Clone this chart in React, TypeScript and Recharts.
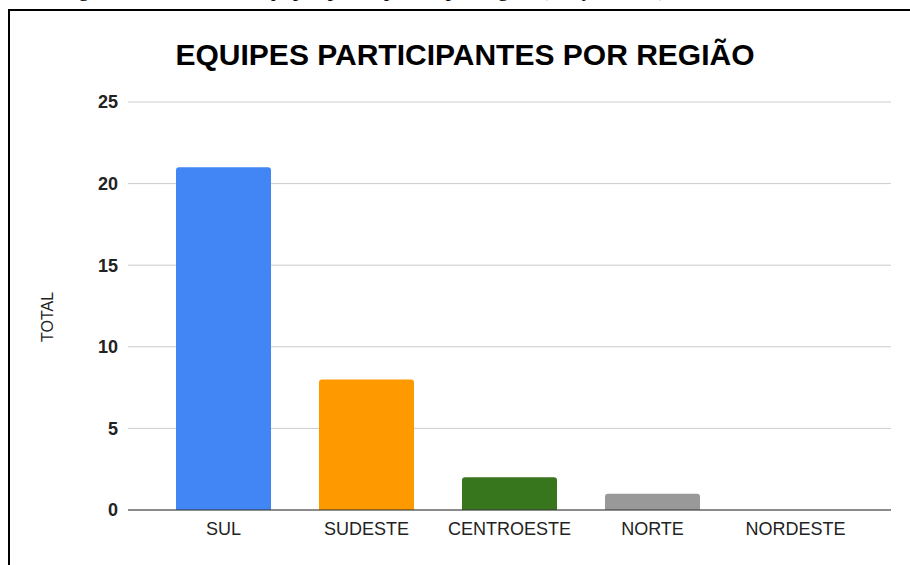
import { BarChart, Bar, XAxis, YAxis, CartesianGrid, Cell } from 'recharts';

// Equipes participantes por região
const regioes = ['SUL', 'SUDESTE', 'CENTROESTE', 'NORTE', 'NORDESTE'];
const totais = [21, 8, 2, 1, 0];
const cores = ['#4285f4', '#ff9900', '#38761d', '#999999', '#999999'];
const yTicks = [0, 5, 10, 15, 20, 25];

const chartData = regioes.map((regiao, i) => ({ regiao, total: totais[i] }));

export default function App() {
  return (
    <div
      style={{
        position: 'absolute',
        left: 0,
        top: 0,
        width: 910,
        height: 565,
        overflow: 'hidden',
        background: '#fff',
        fontFamily: '"Liberation Sans", Arial, sans-serif',
      }}
    >
      {/* caption from the page above, cut off at the top */}
      <div
        style={{
          position: 'absolute',
          left: 0,
          top: 0,
          width: 910,
          height: 8,
          overflow: 'hidden',
        }}
      >
        <div
          style={{
            position: 'absolute',
            left: 60,
            top: -24,
            whiteSpace: 'nowrap',
            fontFamily: '"Liberation Serif", "Times New Roman", serif',
            fontSize: 22,
            lineHeight: '26px',
            color: '#000',
          }}
        >
          Figura 2 – Gráfico de equipes participantes por região (Edição 2023)
        </div>
      </div>

      {/* frame */}
      <div
        style={{
          position: 'absolute',
          left: 8,
          top: 9,
          width: 1000,
          height: 1000,
          border: '2px solid #000',
        }}
      />

      <div
        style={{
          position: 'absolute',
          left: 0,
          top: 38,
          width: 930,
          textAlign: 'center',
          fontWeight: 'bold',
          fontSize: 30,
          color: '#000',
          lineHeight: '34px',
        }}
      >
        EQUIPES PARTICIPANTES POR REGIÃO
      </div>

      <div
        style={{
          position: 'absolute',
          left: 48,
          top: 317,
          transform: 'translate(-50%, -50%) rotate(-90deg)',
          fontSize: 16,
          color: '#222',
          whiteSpace: 'nowrap',
        }}
      >
        TOTAL
      </div>

      <div style={{ position: 'absolute', left: 0, top: 0 }}>
        <BarChart
          width={910}
          height={565}
          data={chartData}
          margin={{ top: 102, right: 19, bottom: 25, left: 0 }}
          barCategoryGap={24}
        >
          <CartesianGrid vertical={false} stroke="#cccccc" />
          <XAxis
            dataKey="regiao"
            height={30}
            padding={{ left: 24, right: 24 }}
            axisLine={{ stroke: '#333333' }}
            tickLine={false}
            tickSize={0}
            tickMargin={12}
            tick={{ fill: '#222222', fontSize: 18 }}
            interval={0}
          />
          <YAxis
            width={128}
            domain={[0, 25]}
            ticks={yTicks}
            axisLine={false}
            tickLine={false}
            tickSize={0}
            tickMargin={10}
            tick={{ fill: '#222222', fontSize: 18, fontWeight: 'bold' }}
          />
          <Bar dataKey="total" radius={[3, 3, 0, 0]} isAnimationActive={false}>
            {chartData.map((d, i) => (
              <Cell key={d.regiao} fill={cores[i]} />
            ))}
          </Bar>
        </BarChart>
      </div>
    </div>
  );
}
